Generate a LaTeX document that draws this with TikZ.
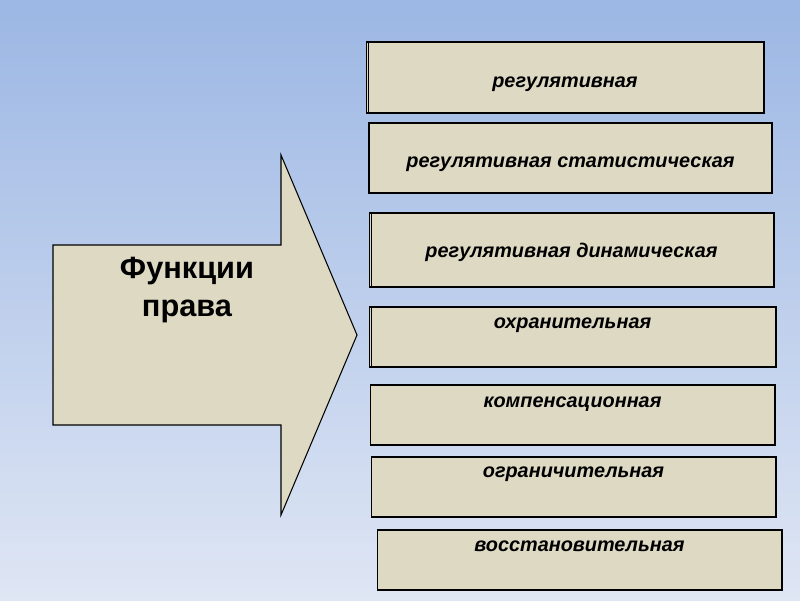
\documentclass[tikz,border=0pt]{standalone}
\usepackage{fontspec}
\setmainfont{Liberation Sans}
\usepackage{tikz}
\usetikzlibrary{positioning}

\definecolor{bgtop}{HTML}{9CB7E4}
\definecolor{bgbot}{HTML}{DFE6F4}
\definecolor{paper}{HTML}{DDD9C3}

\tikzset{
	fnbox/.style={rectangle, draw=black, fill=paper, line width=0.6pt, inner sep=0pt},
	fnlbl/.style={anchor=base, inner sep=0pt, font=\fontsize{11.3}{13}\selectfont\bfseries\itshape},
	edgeline/.style={draw=black, line width=0.6pt}
}

\begin{document}
\begin{tikzpicture}[x=0.02cm, y=-0.02cm]

	% background
	\shade[top color=bgtop, bottom color=bgbot] (0, 0) rectangle (800, 600);
	\useasboundingbox (0, 0) rectangle (800, 600);

	% big arrow
	\draw[fill=paper, line width=0.6pt]
	(53, 245) -- (281, 245) -- (281, 155) -- (357, 335) -- (281, 515)
	-- (281, 425) -- (53, 425) -- cycle;
	\node (title) [align=center, inner sep=0pt, font=\fontsize{17.5}{21.5}\selectfont\bfseries] at (187, 290) {Функции\\права};

	% boxes
	\node (b1) [fnbox, minimum width=7.96cm, minimum height=1.42cm] at (565, 77.5) {};
	\node (b2) [fnbox, minimum width=8.06cm, minimum height=1.40cm] at (570.5, 158) {};
	\node (b3) [fnbox, minimum width=8.10cm, minimum height=1.48cm] at (571.5, 250) {};
	\node (b4) [fnbox, minimum width=8.14cm, minimum height=1.20cm] at (572.5, 337) {};
	\node (b5) [fnbox, minimum width=8.10cm, minimum height=1.20cm] at (572.5, 415) {};
	\node (b6) [fnbox, minimum width=8.10cm, minimum height=1.20cm] at (573.5, 487) {};
	\node (b7) [fnbox, minimum width=8.10cm, minimum height=1.20cm] at (579.5, 560) {};

	% doubled left edges
	\draw[edgeline] ([xshift=0.06cm]b1.north west) -- ([xshift=0.06cm]b1.south west);
	\draw[line width=1.4pt] ([xshift=0.01cm]b2.north west) -- ([xshift=0.01cm]b2.south west);
	\draw[edgeline] ([xshift=0.06cm]b3.north west) -- ([xshift=0.06cm]b3.south west);
	\draw[edgeline] ([xshift=0.06cm]b4.north west) -- ([xshift=0.06cm]b4.south west);

	% labels
	\path (b1.north) ++(0, 46) node (t1) [fnlbl] {регулятивная};
	\path (b2.north) ++(0, 45) node (t2) [fnlbl] {регулятивная статистическая};
	\path (b3.north) ++(0, 45) node (t3) [fnlbl] {регулятивная динамическая};
	\path (b4.north) ++(0, 22) node (t4) [fnlbl] {охранительная};
	\path (b5.north) ++(0, 23) node (t5) [fnlbl] {компенсационная};
	\path (b6.north) ++(0, 21) node (t6) [fnlbl] {ограничительная};
	\path (b7.north) ++(0, 22) node (t7) [fnlbl] {восстановительная};

\end{tikzpicture}
\end{document}
